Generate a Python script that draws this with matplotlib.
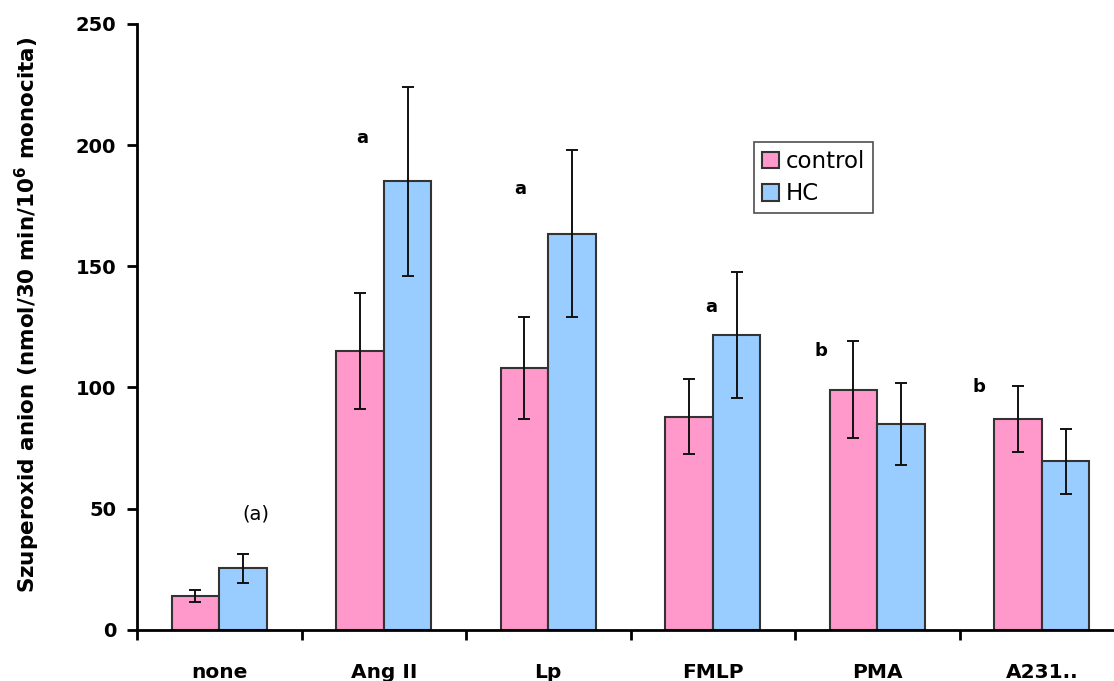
import numpy as np
import matplotlib
matplotlib.use("Agg")
import matplotlib.pyplot as plt

plt.rcParams['font.family'] = ['DejaVu Sans']
plt.rcParams['mathtext.default'] = 'regular'

# Superoxide anion production by stimulus (mean +/- SD)
stimuli = ["none", "Ang II", "Lp", "FMLP", "PMA", "A231.."]
control_mean = [14, 115, 108, 88, 99, 87]
control_err = [2.3, 24, 21, 15.5, 20, 13.5]
hc_mean = [25.5, 185, 163.5, 121.5, 85, 69.5]
hc_err = [6, 39, 34.5, 26, 17, 13.5]

# significance marks: (label, x position, y position, font weight, size)
marks = [("(a)", 0.22, 48, "normal", 14),
         ("a", 0.87, 203, "bold", 13),
         ("a", 1.83, 182, "bold", 13),
         ("a", 2.99, 133, "bold", 13),
         ("b", 3.66, 115, "bold", 13),
         ("b", 4.62, 100, "bold", 13)]

fig = plt.figure(figsize=(11.14, 6.81), dpi=100)
ax = fig.add_axes([0.123, 0.075, 0.886, 0.89])

x = np.arange(len(stimuli))
w = 0.29
err_kw = dict(ecolor='#111111', elinewidth=1.4, capsize=4, capthick=1.4)
ax.bar(x - w / 2, control_mean, w, yerr=control_err, color='#FF99CC',
       edgecolor='#333333', linewidth=1.5, label='control', error_kw=err_kw)
ax.bar(x + w / 2, hc_mean, w, yerr=hc_err, color='#99CCFF',
       edgecolor='#333333', linewidth=1.5, label='HC', error_kw=err_kw)

for txt, mx, my, wt, fs in marks:
    ax.text(mx, my, txt, ha='center', va='center', fontsize=fs,
            fontweight=wt, color='black')

ax.set_xlim(-0.5, 5.5)
ax.set_ylim(0, 250)
ax.set_yticks(np.arange(0, 251, 50))
ax.set_xticks(x)
ax.set_xticklabels(stimuli, fontsize=14.5, fontweight='bold')
ax.set_xticks(np.arange(-0.5, 6, 1), minor=True)
ax.tick_params(axis='x', which='major', length=0, pad=24)
ax.tick_params(axis='x', which='minor', length=7, width=2, direction='out')
ax.tick_params(axis='y', length=7, width=2, direction='out', labelsize=14, pad=8)
for lbl in ax.get_yticklabels():
    lbl.set_fontweight('bold')

for side in ['top', 'right']:
    ax.spines[side].set_visible(False)
for side in ['left', 'bottom']:
    ax.spines[side].set_linewidth(2)

ax.set_ylabel("Szuperoxid anion (nmol/30 min/10$^6$ monocita)",
              fontsize=15.5, fontweight='bold')
ax.yaxis.set_label_coords(-0.096, 0.52)

leg = ax.legend(loc='upper left', bbox_to_anchor=(0.625, 0.805),
                fontsize=16.5, frameon=True, fancybox=False, edgecolor='#222222',
                handlelength=0.75, handleheight=0.75, handletextpad=0.3,
                borderpad=0.35, labelspacing=0.4, borderaxespad=0)
leg.get_frame().set_linewidth(1.2)

fig.savefig("out.png", dpi=100)
